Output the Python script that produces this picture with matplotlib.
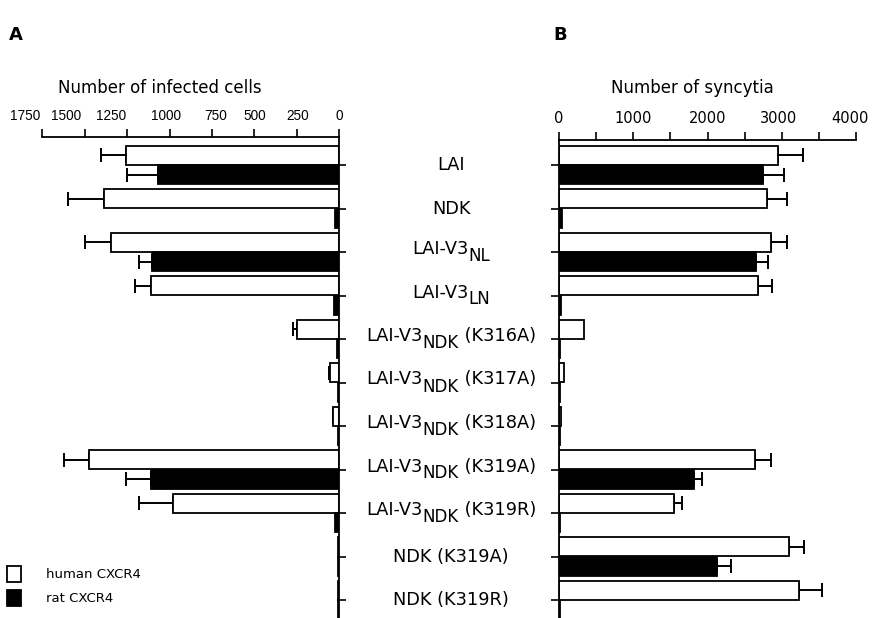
import matplotlib
matplotlib.use("Agg")
import matplotlib.pyplot as plt
from matplotlib.patches import Rectangle
from matplotlib.transforms import blended_transform_factory, offset_copy
import numpy as np

plt.rcParams['font.family'] = ['DejaVu Sans']

# Category labels as (main, subscript, suffix)
categories = [
    ("LAI", "", ""), ("NDK", "", ""), ("LAI-V3", "NL", ""), ("LAI-V3", "LN", ""),
    ("LAI-V3", "NDK", " (K316A)"), ("LAI-V3", "NDK", " (K317A)"),
    ("LAI-V3", "NDK", " (K318A)"), ("LAI-V3", "NDK", " (K319A)"),
    ("LAI-V3", "NDK", " (K319R)"), ("NDK (K319A)", "", ""), ("NDK (K319R)", "", ""),
]

# Panel A: number of infected cells
infected_human = [1259, 1385, 1347, 1110, 251, 55, 35, 1477, 982, 6, 6]
infected_human_err = [147, 215, 151, 94, 20, 5, 3, 145, 198, 0, 0]
infected_rat = [1070, 25, 1102, 30, 15, 10, 8, 1111, 25, 6, 6]
infected_rat_err = [181, 0, 80, 0, 0, 0, 0, 146, 0, 0, 0]

# Panel B: number of syncytia
syncytia_human = [2945, 2801, 2855, 2684, 333, 67, 27, 2640, 1545, 3102, 3237]
syncytia_human_err = [345, 270, 220, 180, 0, 0, 0, 211, 107, 202, 301]
syncytia_rat = [2743, 35, 2653, 30, 15, 10, 8, 1814, 20, 2124, 12]
syncytia_rat_err = [283, 0, 162, 0, 0, 0, 0, 116, 0, 193, 0]

left_ticks = [1750, 1500, 1250, 1000, 750, 500, 250, 0]
right_ticks_major = [0, 1000, 2000, 3000, 4000]
right_ticks_minor = [500, 1500, 2500, 3500]

# horizontal nudges (pixels) of the tick labels, as typeset in the reference
left_label_nudge = [-17.6, -18.8, -15.7, -4, 4, 0.7, 0.8, 0]
right_label_nudge = [0, 0, 0, -3, -5.5]

W, H = 872, 618
fig = plt.figure(figsize=(W / 100, H / 100), dpi=100)

unit = 43.5
y0 = 165.0

def axes_rect(xl, xr, ytop):
    return [xl / W, 0, (xr - xl) / W, (H - ytop) / H]

axL = fig.add_axes(axes_rect(42.3, 339.3, 137))
axR = fig.add_axes(axes_rect(559, 856, 140))

n = len(categories)
pos = np.arange(n)
off = 0.225
bh = 0.44

def draw(ax, hv, he, rv, re):
    ax.barh(pos - off, hv, height=bh, color='white', edgecolor='black', linewidth=1.3, zorder=2)
    ax.barh(pos + off, rv, height=bh, color='black', edgecolor='black', linewidth=1.3, zorder=2)
    for p, v, e in zip(pos - off, hv, he):
        if e > 0:
            ax.errorbar(v, p, xerr=[[0], [e]], fmt='none', ecolor='black', elinewidth=1.4,
                        capsize=5, capthick=1.4, zorder=1)
    for p, v, e in zip(pos + off, rv, re):
        if e > 0:
            ax.errorbar(v, p, xerr=[[0], [e]], fmt='none', ecolor='black', elinewidth=1.4,
                        capsize=5, capthick=1.4, zorder=1)

draw(axL, infected_human, infected_human_err, infected_rat, infected_rat_err)
draw(axR, syncytia_human, syncytia_human_err, syncytia_rat, syncytia_rat_err)

# Left panel
axL.set_xlim(1750, 0)
axL.set_ylim((H - y0) / unit, (137 - y0) / unit)
axL.xaxis.tick_top()
axL.set_xticks(left_ticks)
axL.set_xticklabels([])
axL.yaxis.tick_right()
axL.set_yticks(pos)
axL.set_yticklabels([])
for s in ['left', 'bottom']:
    axL.spines[s].set_visible(False)
for s in ['top', 'right']:
    axL.spines[s].set_linewidth(1.3)
axL.tick_params(axis='x', direction='out', length=6, width=1.2)
axL.tick_params(axis='y', direction='out', length=5, width=1.2)

# Right panel
axR.set_xlim(0, 4000)
axR.set_ylim((H - y0) / unit, (140 - y0) / unit)
axR.xaxis.tick_top()
axR.set_xticks(right_ticks_major)
axR.set_xticklabels([])
axR.set_xticks(right_ticks_minor, minor=True)
axR.set_yticks(pos)
axR.set_yticklabels([])
for s in ['right', 'bottom']:
    axR.spines[s].set_visible(False)
for s in ['top', 'left']:
    axR.spines[s].set_linewidth(1.3)
axR.tick_params(axis='x', which='both', direction='out', length=6, width=1.2)
axR.tick_params(axis='y', direction='out', length=6, width=1.2)

# Tick labels (placed at the tick positions, with the reference's small nudges)
trL = blended_transform_factory(axL.transData, fig.transFigure)
for t, dx in zip(left_ticks, left_label_nudge):
    axL.text(t, 1 - 116 / H, str(t), transform=offset_copy(trL, fig=fig, x=dx, y=0, units='dots'),
             ha='center', va='center', fontsize=9.8, fontfamily='Liberation Sans', clip_on=False)
trR = blended_transform_factory(axR.transData, fig.transFigure)
for t, dx in zip(right_ticks_major, right_label_nudge):
    axR.text(t, 1 - 118 / H, str(t), transform=offset_copy(trR, fig=fig, x=dx, y=0, units='dots'),
             ha='center', va='center', fontsize=10.5, clip_on=False)

fig.canvas.draw()
renderer = fig.canvas.get_renderer()

# Category labels between the panels (main text + subscript + suffix)
tr = blended_transform_factory(fig.transFigure, axL.transData)
fs_main = 12.8
fs_sub = 12
xc = 451
for p, (main, sub, suf) in zip(pos, categories):
    has_sub = bool(sub)
    pieces = [(main, fs_main, 3 if has_sub else 0), (sub, fs_sub, -4), (suf, fs_main, 3)]
    texts = []
    widths = []
    for s, fs, dy in pieces:
        if not s:
            continue
        t = axL.text(0, p, s, transform=tr, ha='left', va='center', fontsize=fs, clip_on=False)
        bb = t.get_window_extent(renderer=renderer)
        texts.append((t, dy))
        widths.append(bb.width)
    total = sum(widths)
    x = xc - total / 2
    for (t, dy), w in zip(texts, widths):
        t.set_x(x / W)
        if dy:
            t.set_transform(offset_copy(tr, fig=fig, x=0, y=dy, units='dots'))
        x += w

# Axis titles
fig.text(160 / W, 1 - 88 / H, "Number of infected cells", ha='center', va='center', fontsize=12)
fig.text(692 / W, 1 - 88 / H, "Number of syncytia", ha='center', va='center', fontsize=12)

# Panel letters
fig.text(16 / W, 1 - 35 / H, "A", ha='center', va='center', fontsize=13, fontweight='bold')
fig.text(560 / W, 1 - 35 / H, "B", ha='center', va='center', fontsize=13, fontweight='bold')

# Legend
fig.patches.append(Rectangle((7 / W, 1 - 582 / H), 14 / W, 16 / H, transform=fig.transFigure,
                             facecolor='white', edgecolor='black', linewidth=1.3))
fig.patches.append(Rectangle((7 / W, 1 - 606 / H), 14 / W, 16 / H, transform=fig.transFigure,
                             facecolor='black', edgecolor='black', linewidth=1.3))
fig.text(46 / W, 1 - 575 / H, "human CXCR4", ha='left', va='center', fontsize=9.5)
fig.text(46 / W, 1 - 598 / H, "rat CXCR4", ha='left', va='center', fontsize=9.5)

fig.savefig("out.png", dpi=100)
